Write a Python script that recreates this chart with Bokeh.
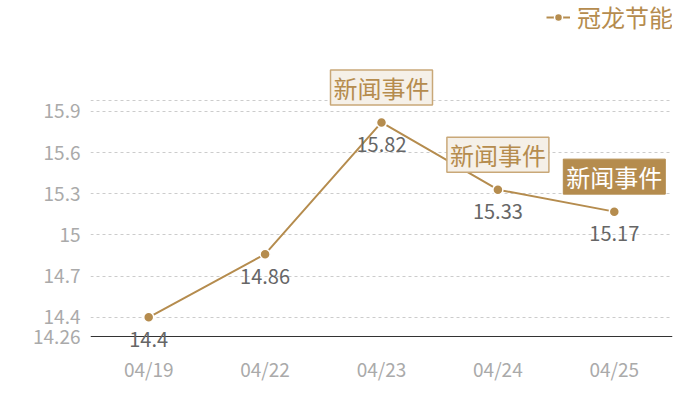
from bokeh.plotting import figure
from bokeh.models import (ColumnDataSource, FixedTicker, CustomJSTickFormatter,
                          Legend, LegendItem, Range1d, LabelSet, Span)
from bokeh.core.properties import value
from bokeh.embed import file_html
from bokeh.resources import INLINE

# ---- data ----
dates = ["04/19", "04/22", "04/23", "04/24", "04/25"]
prices = [14.4, 14.86, 15.82, 15.33, 15.17]
series_name = "冠龙节能"
event_dates = ["04/23", "04/24", "04/25"]
event_values = [15.82, 15.33, 15.17]
event_texts = ["新闻事件", "新闻事件", "新闻事件"]
y_ticks = [14.26, 14.4, 14.7, 15.0, 15.3, 15.6, 15.9]
y_min, y_max = 14.26, 15.98

FONT = "Noto Sans CJK SC"
GOLD = "#b58c4e"

# the frame is extended above and below the value range (blank areas) so that
# the annotations, labels and legend are not clipped
grid_h = 236
extra_top = 100
extra_bottom = 16
span = y_max - y_min
y_view_end = y_max + span * extra_top / grid_h
y_view_start = y_min - span * extra_bottom / grid_h

p = figure(x_range=dates, y_range=Range1d(y_view_start, y_view_end),
           width=700, height=400, frame_width=582,
           frame_height=grid_h + extra_top + extra_bottom,
           min_border_left=90, min_border_right=28, min_border_top=0,
           min_border_bottom=400 - (grid_h + extra_top + extra_bottom),
           output_backend="svg", toolbar_location=None,
           background_fill_color="white", border_fill_color="white")
p.outline_line_color = None

# axes
p.yaxis.ticker = FixedTicker(ticks=y_ticks)
p.yaxis.formatter = CustomJSTickFormatter(code="return String(Math.round(tick*100)/100);")
p.yaxis.axis_line_color = None
p.yaxis.major_tick_line_color = None
p.yaxis.major_tick_out = 0
p.yaxis.minor_tick_line_color = None
p.yaxis.major_label_text_color = "#aaaaaa"
p.yaxis.major_label_text_font = FONT
p.yaxis.major_label_text_font_size = "19px"
p.yaxis.major_label_standoff = 10

p.xaxis.axis_line_color = None
p.xaxis.major_tick_line_color = None
p.xaxis.major_tick_out = 0
p.xaxis.minor_tick_line_color = None
p.xaxis.major_label_text_color = "#aaaaaa"
p.xaxis.major_label_text_font = FONT
p.xaxis.major_label_text_font_size = "19px"
p.xaxis.major_label_standoff = 2

p.xgrid.grid_line_color = None
p.ygrid.ticker = FixedTicker(ticks=y_ticks[1:] + [y_max])
p.ygrid.grid_line_color = "#cccccc"
p.ygrid.grid_line_dash = "3 3"
p.ygrid.grid_line_width = 1

# baseline of the value axis
p.add_layout(Span(location=y_min, dimension="width", line_color="#333333",
                  line_width=1))

src = ColumnDataSource(dict(x=dates, y=prices, lab=[str(v) for v in prices]))
ln = p.line("x", "y", source=src, line_color=GOLD, line_width=2)
sc = p.scatter("x", "y", source=src, size=10, fill_color=GOLD,
               line_color="white", line_width=1.5)

labels = LabelSet(x="x", y="y", text="lab", source=src, text_align="center",
                  text_baseline="middle", y_offset=-22, text_color="#666666",
                  text_font=value(FONT), text_font_size="20px")
p.add_layout(labels)

# event annotations
ev_outline = ColumnDataSource(dict(x=event_dates[:2], y=event_values[:2], t=event_texts[:2]))
ev_filled = ColumnDataSource(dict(x=event_dates[2:], y=event_values[2:], t=event_texts[2:]))
pad = dict(left=3, right=3, top=0, bottom=0)
p.text("x", "y", text="t", source=ev_outline, text_align="center",
       text_baseline="middle", y_offset=-35, text_color=GOLD,
       text_font=value(FONT), text_font_size="24px",
       background_fill_color="#f5f0e8", border_line_color="#c9a878",
       border_line_width=1.5, padding=pad)
p.text("x", "y", text="t", source=ev_filled, text_align="center",
       text_baseline="middle", y_offset=-35, text_color="white",
       text_font=value(FONT), text_font_size="24px",
       background_fill_color=GOLD, border_line_color=GOLD, padding=pad)

legend = Legend(items=[LegendItem(label=series_name, renderers=[ln, sc])],
                location=(456, 302 + extra_bottom), orientation="horizontal",
                label_text_font=FONT, label_text_font_size="24px",
                label_text_color=GOLD, glyph_width=24, glyph_height=20,
                label_height=26, label_standoff=7, padding=0, margin=0,
                border_line_color=None, background_fill_alpha=0)
p.add_layout(legend, "center")

open("out.html", "w").write(file_html(p, INLINE))
